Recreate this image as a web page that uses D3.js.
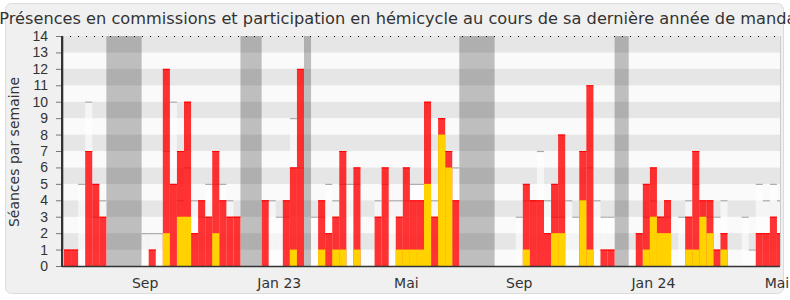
<!DOCTYPE html>
<html>
<head>
<meta charset="utf-8">
<script src="https://cdn.jsdelivr.net/npm/d3@7"></script>
<style>
  body { margin: 0; background: #fff; }
  svg { display: block; font-family: "DejaVu Sans", Verdana, sans-serif; }
</style>
</head>
<body>
<div id="chart-area"></div>
<script>
// one entry per week, index 0..101
const presences = [1,1,0,7,5,3, 0,0,0,0,0, 0,1,0,12,5,7,10,2,4,3,7,4,3,3, 0,0,0, 4,0,0,4,6,12, 0,
  0,4,2,3,7,0,6,0,0,3,6,0,3,6,4,4,10,3,9,7,4, 0,0,0,0,0,
  0,0,0,0,5,4,4,2,5,8,0,0,7,11,0,1,1, 0,0,
  0,2,5,6,3,4,0,0,3,7,4,4,1,2,0,0,0,0,2,2,3,2]
const hemicycle = [0,0,0,0,0,0, 0,0,0,0,0, 0,0,0,2,0,3,3,0,0,0,2,0,0,0, 0,0,0, 0,0,0,0,1,0, 0,
  0,1,0,1,1,0,1,0,0,0,0,0,1,1,1,1,5,0,8,6,0, 0,0,0,0,0,
  0,0,0,0,1,0,0,0,2,2,0,0,4,1,0,0,0, 0,0,
  0,0,1,3,2,2,0,0,1,1,3,2,0,1,0,0,0,0,0,0,0,0]
const mediane = [0,0,5,10,3,4, 0,0,0,0,0, 2,2,2,7,10,4,6,4,3,5,5,5,4,3, 0,0,0, 4,4,3,3,9,6, 0,
  3,3,5,4,5,5,5,0,0,4,5,4,4,4,5,5,4,4,4,6,6, 0,0,0,0,0,
  0,0,0,3,4,4,7,4,3,3,4,3,4,6,4,3,3, 0,0,
  0,0,3,4,3,3,0,3,4,5,3,3,3,4,0,0,3,1,5,4,5,4]
// vacances parlementaires [debut, fin) en semaines
const vacances = [[-0.3, 0], [6, 11], [25, 28], [34, 35], [56, 61], [78, 80]]
const tickWeeks = [11.5, 30.5, 48.5, 64.5, 83.5, 101]
const tickLabels = ["Sep", "Jan 23", "Mai", "Sep", "Jan 24", "Mai"]

const W = 790, H = 300
const m = { left: 62, right: 780, top: 36, bottom: 266 }

let weeks = presences.map((p, i) => ({ semaine: i, pres: p, hemi: hemicycle[i], med: mediane[i] }))

let svg = d3.select("#chart-area").append("svg")
  .attr("width", W)
  .attr("height", H)

svg.append("rect")
  .attr("x", 5.5).attr("y", 3.5)
  .attr("width", 778).attr("height", 290)
  .attr("rx", 6)
  .attr("fill", "#f0f0f0")
  .attr("stroke", "#dcdcdc")

let x = d3.scaleLinear().domain([0, presences.length]).range([64, 784])
let y = d3.scaleLinear().domain([0, 14]).range([m.bottom, m.top])
let bw = x(1) - x(0)

svg.append("clipPath").attr("id", "plot")
  .append("rect")
    .attr("x", m.left).attr("y", m.top)
    .attr("width", m.right - m.left).attr("height", m.bottom - m.top)

let g = svg.append("g").attr("clip-path", "url(#plot)")

// bandes horizontales
g.selectAll(".band")
  .data(d3.range(14))
  .enter().append("rect")
    .attr("x", m.left)
    .attr("width", m.right - m.left)
    .attr("y", d => y(d + 1))
    .attr("height", d => y(d) - y(d + 1))
    .attr("fill", d => d % 2 == 1 ? "#e6e6e6" : "#fafafa")

g.selectAll(".vac")
  .data(vacances)
  .enter().append("rect")
    .attr("x", d => x(d[0]))
    .attr("width", d => x(d[1]) - x(d[0]))
    .attr("y", m.top)
    .attr("height", m.bottom - m.top)
    .attr("fill", "rgba(0,0,0,0.24)")

// mediane de l'ensemble des deputes
let med = weeks.filter(d => d.med > 0)
g.selectAll(".med")
  .data(med)
  .enter().append("rect")
    .attr("x", d => x(d.semaine))
    .attr("width", bw)
    .attr("y", d => y(d.med))
    .attr("height", d => m.bottom - y(d.med))
    .attr("fill", "rgba(255,255,255,0.6)")

g.selectAll(".medline")
  .data(med)
  .enter().append("line")
    .attr("x1", d => x(d.semaine))
    .attr("x2", d => x(d.semaine + 1))
    .attr("y1", d => y(d.med) + 0.5)
    .attr("y2", d => y(d.med) + 0.5)
    .attr("stroke", "#aaa")
    .attr("stroke-width", 1.2)

let pres = weeks.filter(d => d.pres > 0)
g.selectAll(".pres")
  .data(pres)
  .enter().append("rect")
    .attr("x", d => x(d.semaine))
    .attr("width", bw)
    .attr("y", d => y(d.pres))
    .attr("height", d => m.bottom - y(d.pres))
    .attr("fill", "rgba(255,0,0,0.8)")

g.selectAll(".presline")
  .data(pres)
  .enter().append("line")
    .attr("x1", d => x(d.semaine))
    .attr("x2", d => x(d.semaine + 1))
    .attr("y1", d => y(d.pres) + 0.5)
    .attr("y2", d => y(d.pres) + 0.5)
    .attr("stroke", "#f00")
    .attr("stroke-width", 1)

g.selectAll(".hemi")
  .data(weeks.filter(d => d.hemi > 0))
  .enter().append("rect")
    .attr("x", d => x(d.semaine))
    .attr("width", bw)
    .attr("y", d => y(d.hemi))
    .attr("height", d => m.bottom - y(d.hemi))
    .attr("fill", "#ffd200")

// cadre
svg.append("line")
  .attr("x1", m.left).attr("x2", m.right)
  .attr("y1", m.top + 0.5).attr("y2", m.top + 0.5)
  .attr("stroke", "#000")
  .attr("stroke-dasharray", "1,7")
svg.append("line")
  .attr("x1", m.right + 0.5).attr("x2", m.right + 0.5)
  .attr("y1", m.top).attr("y2", m.bottom)
  .attr("stroke", "#ccc")

let yAxis = svg.append("g")
  .attr("transform", `translate(${m.left},0)`)
  .call(d3.axisLeft(y).ticks(14).tickSize(6).tickPadding(8))
yAxis.select(".domain").remove()
yAxis.selectAll(".tick line").attr("stroke", "#777")
yAxis.selectAll("text").attr("fill", "#333").style("font-size", "14px")
svg.append("line")
  .attr("x1", m.left).attr("x2", m.left)
  .attr("y1", m.top).attr("y2", m.bottom + 1)
  .attr("stroke", "#333").attr("stroke-width", 2)

svg.append("line")
  .attr("x1", m.left).attr("x2", m.right)
  .attr("y1", m.bottom + 0.5).attr("y2", m.bottom + 0.5)
  .attr("stroke", "#333").attr("stroke-width", 1.5)

svg.selectAll(".xlab")
  .data(tickWeeks)
  .enter().append("text")
    .attr("x", d => x(d))
    .attr("y", 288)
    .attr("text-anchor", "middle")
    .attr("fill", "#333")
    .style("font-size", "14px")
    .text((d, i) => tickLabels[i])

svg.append("text")
  .attr("transform", "translate(19,152) rotate(-90)")
  .attr("text-anchor", "middle")
  .attr("fill", "#333")
  .style("font-size", "14px")
  .text("Séances par semaine")

svg.append("text")
  .attr("x", 401)
  .attr("y", 24)
  .attr("text-anchor", "middle")
  .attr("fill", "#333")
  .style("font-size", "16.2px")
  .text("Présences en commissions et participation en hémicycle au cours de sa dernière année de mandat")
</script>
</body>
</html>
